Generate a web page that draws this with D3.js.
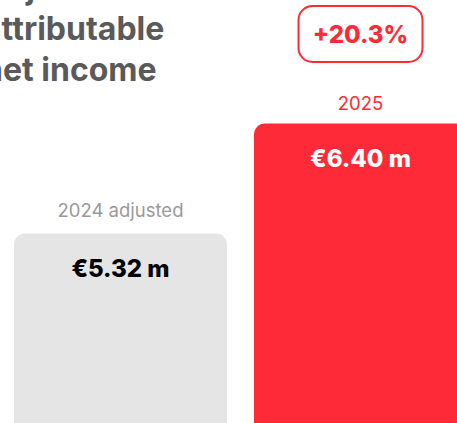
<!DOCTYPE html>
<html><head><meta charset="utf-8">
<script src="https://cdn.jsdelivr.net/npm/d3@7"></script>
<style>html,body{margin:0;padding:0;background:#fff;overflow:hidden;}</style>
</head><body>
<script>
const categories = ["2024 adjusted", "2025"];
const values = [5.32, 6.40];
const valueLabels = ["€5.32 m", "€6.40 m"];
const changeLabel = "+20.3%";
const titleLines = ["Adjusted", "attributable", "net income"];

const W = 457, H = 423;
const svg = d3.select("body").append("svg").attr("width", W).attr("height", H)
  .style("font-family", "Inter, sans-serif");

const x = d3.scaleBand().domain(categories).range([14, 467]).paddingInner(0.1125).paddingOuter(0);
const y = d3.scaleLinear().domain([0, 6.40]).range([775, 123.5]);
const fills = ["#e5e5e5", "#ff2a37"];
const catColors = ["#9a9a9a", "#ff2a37"];
const valColors = ["#000000", "#ffffff"];
const catOffsets = [16.5, 13.5];

svg.selectAll("rect.bar").data(values).join("rect")
  .attr("class", "bar")
  .attr("x", (d, i) => x(categories[i]))
  .attr("y", d => y(d))
  .attr("width", x.bandwidth())
  .attr("height", d => y(0) - y(d) + 20)
  .attr("rx", 11)
  .attr("fill", (d, i) => fills[i]);

svg.selectAll("text.cat").data(values).join("text")
  .attr("class", "cat")
  .attr("x", (d, i) => x(categories[i]) + x.bandwidth() / 2)
  .attr("y", (d, i) => y(d) - catOffsets[i])
  .attr("text-anchor", "middle")
  .attr("font-size", 18.5)
  .attr("fill", (d, i) => catColors[i])
  .text((d, i) => categories[i]);

svg.selectAll("text.val").data(values).join("text")
  .attr("class", "val")
  .attr("x", (d, i) => x(categories[i]) + x.bandwidth() / 2)
  .attr("y", d => y(d) + 43.5)
  .attr("text-anchor", "middle")
  .attr("font-size", 24)
  .attr("font-weight", 800)
  .attr("fill", (d, i) => valColors[i])
  .text((d, i) => valueLabels[i]);

// change badge
const cx = x(categories[1]) + x.bandwidth() / 2;
svg.append("rect").attr("x", cx - 62).attr("y", 6).attr("width", 124).attr("height", 56)
  .attr("rx", 14).attr("fill", "none").attr("stroke", "#ff2a37").attr("stroke-width", 2);
svg.append("text").attr("x", cx).attr("y", 43).attr("text-anchor", "middle")
  .attr("font-size", 24).attr("font-weight", 800).attr("fill", "#ff2a37").text(changeLabel);

// title
svg.append("text").attr("font-size", 32).attr("font-weight", 700).attr("fill", "#5a5a5a")
  .selectAll("tspan").data(titleLines).join("tspan")
  .attr("x", -17).attr("y", (d, i) => -1 + i * 41)
  .text(d => d);
</script>
</body></html>
